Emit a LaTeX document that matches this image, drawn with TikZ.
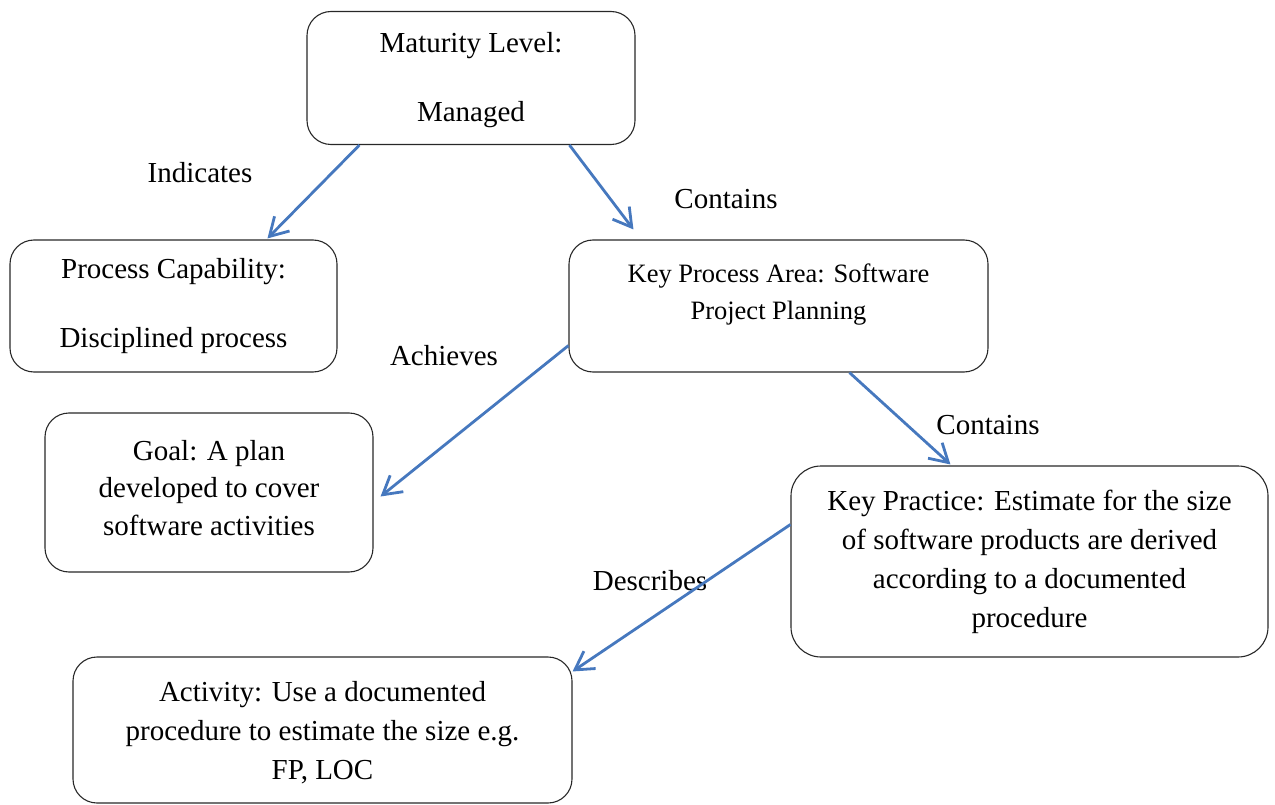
\documentclass[tikz,border=0pt]{standalone}
\usepackage{fontspec}
\setmainfont{Liberation Serif}
\usetikzlibrary{arrows.meta}
\definecolor{linkblue}{RGB}{70,120,190}
\definecolor{edgegray}{RGB}{40,40,40}
\tikzset{
  box/.style={draw=edgegray, line width=1.1pt, rounded corners=24pt, align=center,
    inner sep=0pt, font=\fontsize{29}{39}\selectfont},
  link/.style={draw=linkblue, line width=2.8pt,
    -{Straight Barb[length=18pt,width=21pt,line width=2.8pt]}},
  lbl/.style={inner sep=0pt, font=\fontsize{29}{35}\selectfont}
}
\begin{document}
\begin{tikzpicture}[x=1pt,y=-1pt]
\useasboundingbox (0,0) rectangle (1275,805);

% boxes
\node[box, minimum width=328pt, minimum height=133pt, text depth=3pt] (mat) at (471,78)
  {Maturity Level:\\[30pt]Managed};
\node[box, minimum width=327pt, minimum height=132pt] (pc) at (173.5,306)
  {Process Capability:\\[30pt]Disciplined process};
\node[box, minimum width=419pt, minimum height=132pt, text depth=28pt,
  font=\fontsize{26.5}{37}\selectfont] (kpa) at (778.5,306)
  {Key Process Area: Software\\Project Planning};
\node[box, minimum width=328pt, minimum height=159pt, text depth=10pt,
  font=\fontsize{29}{37.5}\selectfont] (goal) at (209,492.5)
  {Goal: A plan\\developed to cover\\software activities};
\node[box, minimum width=477pt, minimum height=191pt, rounded corners=30pt] (kp) at (1029.5,561.5)
  {Key Practice: Estimate for the size\\of software products are derived\\according to a documented\\procedure};
\node[box, minimum width=499pt, minimum height=146pt, text depth=0pt] (act) at (322.5,730)
  {Activity: Use a documented\\procedure to estimate the size e.g.\\FP, LOC};

% relation labels
\node[lbl] (lind) at (200,173) {Indicates};
\node[lbl] (lcon1) at (726,199) {Contains};
\node[lbl] (lach) at (444,356) {Achieves};
\node[lbl] (lcon2) at (988,425) {Contains};
\node[lbl] (ldes) at (650,581) {Describes};

% relations
\draw[link] ([xshift=53pt]mat.south west) -- ([xshift=258pt,yshift=1pt]pc.north west);
\draw[link] ([xshift=263pt]mat.south west) -- ([xshift=65pt,yshift=10pt]kpa.north west);
\draw[link] ([yshift=27pt]kpa.south west) -- ([xshift=7pt,yshift=-4pt]goal.east);
\draw[link] ([xshift=281pt]kpa.south west) -- ([xshift=160pt,yshift=1pt]kp.north west);
\draw[link] ([yshift=37pt]kp.west) -- ([yshift=-15pt]act.north east);
\end{tikzpicture}
\end{document}
